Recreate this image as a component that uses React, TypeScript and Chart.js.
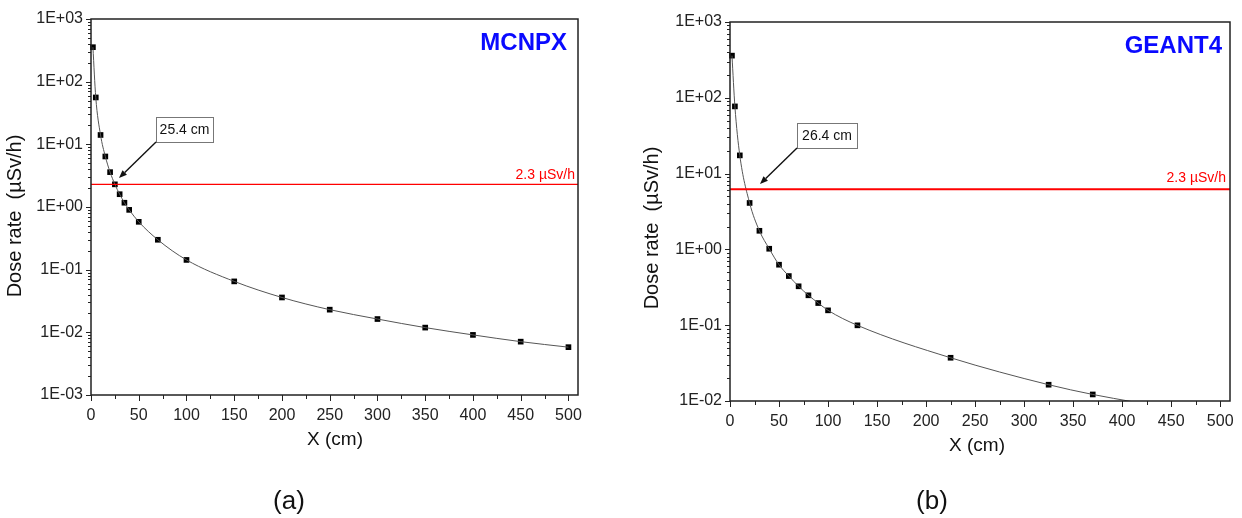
import React, { useEffect, useRef } from "react";
import { Chart, registerables } from "chart.js";
Chart.register(...registerables);

// ---------- data ----------
const mcnpxX = [2, 5, 10, 15, 20, 25, 30, 35, 40, 50, 70, 100, 150, 200, 250, 300, 350, 400, 450, 500];
const mcnpxY = [355, 56, 14.1, 6.4, 3.6, 2.3, 1.6, 1.17, 0.9, 0.58, 0.3, 0.143, 0.065, 0.036, 0.023, 0.0163, 0.0119, 0.0091, 0.0071, 0.0058];

const geantX = [2, 5, 10, 20, 30, 40, 50, 60, 70, 80, 90, 100, 130, 225, 325, 370];
const geantY = [360, 77, 17.4, 4.1, 1.76, 1.02, 0.628, 0.445, 0.326, 0.248, 0.196, 0.157, 0.0996, 0.0372, 0.0164, 0.0122];
// fitted curve continues past the last marker until it leaves the axis
const geantTailX = [412];
const geantTailY = [0.0097];

const mcnpxLimit = 2.3;
const geantLimit = 6.2;
const limitLabel = "2.3 µSv/h";

const xTickValues = [0, 50, 100, 150, 200, 250, 300, 350, 400, 450, 500];
const xMin = 0;
const xMax = 510;
const mcnpxYTicks = [1e-3, 1e-2, 1e-1, 1, 10, 100, 1000];
const geantYTicks = [1e-2, 1e-1, 1, 10, 100, 1000];

const FONT = "'Liberation Sans', Arial, Helvetica, sans-serif";

function fmtExp(v: number) {
  const e = Math.round(Math.log10(v));
  return "1E" + (e < 0 ? "-" : "+") + String(Math.abs(e)).padStart(2, "0");
}

function drawArrow(ctx: CanvasRenderingContext2D, x0: number, y0: number, x1: number, y1: number) {
  ctx.save();
  ctx.strokeStyle = "#111";
  ctx.fillStyle = "#111";
  ctx.lineWidth = 1.4;
  const ang = Math.atan2(y1 - y0, x1 - x0);
  const hl = 8, hw = 3.2;
  const bx = x1 - hl * Math.cos(ang), by = y1 - hl * Math.sin(ang);
  ctx.beginPath();
  ctx.moveTo(x0, y0);
  ctx.lineTo(bx, by);
  ctx.stroke();
  ctx.beginPath();
  ctx.moveTo(x1, y1);
  ctx.lineTo(bx + hw * Math.sin(ang), by - hw * Math.cos(ang));
  ctx.lineTo(bx - hw * Math.sin(ang), by + hw * Math.cos(ang));
  ctx.closePath();
  ctx.fill();
  ctx.restore();
}

type Layout = {
  width: number;
  height: number;
  plotLeft: number;
  plotTop: number;
  plotRight: number;
  plotBottom: number;
  yTitle: [number, number];
  xTitle: [number, number];
  label: string;
  labelPos: [number, number];
  limitLabelPos: [number, number];
  box: [number, number, number, number];
  boxText: string;
  arrowTip: [number, number];
  limitWidth: number;
};

function makeChart(canvas: HTMLCanvasElement, xs: number[], ys: number[], tailX: number[], tailY: number[],
  limit: number, yTicks: number[], L: Layout) {
  const markers = xs.map((x, i) => ({ x, y: ys[i] }));
  const curve = markers.concat(tailX.map((x, i) => ({ x, y: tailY[i] })));
  const limitLine = [{ x: xMin, y: limit }, { x: xMax, y: limit }];
  const yMin = yTicks[0], yMax = yTicks[yTicks.length - 1];

  const overlay = {
    id: "overlay",
    afterDraw(chart: any) {
      const ctx: CanvasRenderingContext2D = chart.ctx;
      const a = chart.chartArea;
      const xs_ = chart.scales.x, ys_ = chart.scales.y;
      ctx.save();
      // ticks
      ctx.strokeStyle = "#222";
      ctx.lineWidth = 1;
      ctx.beginPath();
      for (let e = Math.round(Math.log10(yMin)); e <= Math.round(Math.log10(yMax)); e++) {
        for (let k = 1; k <= 9; k++) {
          const v = k * Math.pow(10, e);
          if (v > yMax * 1.0001) break;
          const py = Math.round(ys_.getPixelForValue(v)) + 0.5;
          const len = k === 1 ? 5 : 3;
          ctx.moveTo(a.left, py);
          ctx.lineTo(a.left - len, py);
        }
      }
      for (let v = 0; v <= 500; v += 25) {
        const px = Math.round(xs_.getPixelForValue(v)) + 0.5;
        const len = v % 50 === 0 ? 6 : 4;
        ctx.moveTo(px, a.bottom);
        ctx.lineTo(px, a.bottom + len);
      }
      ctx.stroke();
      // frame
      ctx.strokeStyle = "#222";
      ctx.lineWidth = 1.5;
      ctx.strokeRect(a.left, a.top, a.right - a.left, a.bottom - a.top);

      // titles
      ctx.fillStyle = "#111";
      ctx.textAlign = "center";
      ctx.textBaseline = "middle";
      ctx.font = "20px " + FONT;
      ctx.save();
      ctx.translate(L.yTitle[0], L.yTitle[1]);
      ctx.rotate(-Math.PI / 2);
      ctx.fillText("Dose rate  (µSv/h)", 0, 0);
      ctx.restore();
      ctx.font = "19px " + FONT;
      ctx.fillText("X (cm)", L.xTitle[0], L.xTitle[1]);

      // code name
      ctx.fillStyle = "#0a0aff";
      ctx.font = "bold 24px " + FONT;
      ctx.textAlign = "right";
      ctx.fillText(L.label, L.labelPos[0], L.labelPos[1]);

      // limit label
      ctx.fillStyle = "#ff0000";
      ctx.font = "14px " + FONT;
      ctx.textBaseline = "alphabetic";
      ctx.fillText(limitLabel, L.limitLabelPos[0], L.limitLabelPos[1]);

      // annotation box + arrow
      const [bx, by, bw, bh] = L.box;
      ctx.fillStyle = "#fff";
      ctx.fillRect(bx, by, bw, bh);
      ctx.strokeStyle = "#777";
      ctx.lineWidth = 1;
      ctx.strokeRect(bx + 0.5, by + 0.5, bw, bh);
      ctx.fillStyle = "#111";
      ctx.font = "14px " + FONT;
      ctx.textAlign = "center";
      ctx.textBaseline = "middle";
      ctx.fillText(L.boxText, bx + bw / 2, by + bh / 2 + 1);
      drawArrow(ctx, bx, by + bh, L.arrowTip[0], L.arrowTip[1]);
      ctx.restore();
    },
  };

  return new Chart(canvas, {
    type: "line",
    data: {
      datasets: [
        {
          data: limitLine,
          borderColor: "#ff0000",
          borderWidth: L.limitWidth,
          pointRadius: 0,
          showLine: true,
        },
        {
          data: curve,
          borderColor: "#555",
          borderWidth: 1,
          pointRadius: 0,
          cubicInterpolationMode: "monotone",
          showLine: true,
        },
        {
          data: markers,
          showLine: false,
          pointStyle: "rect",
          pointRadius: 4,
          pointBackgroundColor: "#000",
          pointBorderWidth: 0,
          borderColor: "#000",
          clip: false,
        },
      ],
    },
    options: {
      responsive: false,
      animation: false,
      events: [],
      layout: {
        padding: { top: L.plotTop, right: L.width - L.plotRight, left: 0, bottom: 0 },
      },
      plugins: { legend: { display: false }, tooltip: { enabled: false } },
      scales: {
        x: {
          type: "linear",
          min: xMin,
          max: xMax,
          afterBuildTicks: (s: any) => { s.ticks = xTickValues.map((v) => ({ value: v })); },
          afterFit: (s: any) => { s.height = L.height - L.plotBottom; },
          ticks: { font: { size: 16, family: FONT }, color: "#222", padding: 6, maxRotation: 0, autoSkip: false },
          grid: { drawOnChartArea: false, tickLength: 5, tickColor: "rgba(0,0,0,0)" },
          border: { display: false },
        },
        y: {
          type: "logarithmic",
          min: yMin,
          max: yMax,
          afterBuildTicks: (s: any) => { s.ticks = yTicks.map((v) => ({ value: v })); },
          afterFit: (s: any) => { s.width = L.plotLeft; },
          ticks: { font: { size: 16, family: FONT }, color: "#222", padding: 3, autoSkip: false, callback: (v: any) => fmtExp(Number(v)) },
          grid: { drawOnChartArea: false, tickLength: 5, tickColor: "rgba(0,0,0,0)" },
          border: { display: false },
        },
      },
    } as any,
    plugins: [overlay as any],
  });
}

const leftLayout: Layout = {
  width: 620, height: 518,
  plotLeft: 91, plotTop: 19, plotRight: 578, plotBottom: 395,
  yTitle: [15, 216], xTitle: [335, 440],
  label: "MCNPX", labelPos: [567, 43],
  limitLabelPos: [575, 179],
  box: [156, 117, 57, 25], boxText: "25.4 cm",
  arrowTip: [119, 178],
  limitWidth: 1.4,
};

const rightLayout: Layout = {
  width: 621, height: 518,
  plotLeft: 109, plotTop: 22, plotRight: 609, plotBottom: 401,
  yTitle: [31, 228], xTitle: [356, 446],
  label: "GEANT4", labelPos: [601, 46],
  limitLabelPos: [605, 182],
  box: [176, 123, 60, 25], boxText: "26.4 cm",
  arrowTip: [139, 184],
  limitWidth: 2,
};

export default function App() {
  const leftRef = useRef<HTMLCanvasElement>(null);
  const rightRef = useRef<HTMLCanvasElement>(null);

  useEffect(() => {
    const c1 = makeChart(leftRef.current!, mcnpxX, mcnpxY, [], [], mcnpxLimit, mcnpxYTicks, leftLayout);
    const c2 = makeChart(rightRef.current!, geantX, geantY, geantTailX, geantTailY, geantLimit, geantYTicks, rightLayout);
    return () => { c1.destroy(); c2.destroy(); };
  }, []);

  const cap: React.CSSProperties = {
    position: "absolute", top: 485, width: 100, textAlign: "center",
    font: "26px " + FONT, lineHeight: "30px", color: "#111",
  };

  return (
    <div style={{ position: "absolute", left: 0, top: 0, width: 1242, height: 518, background: "#fff", overflow: "hidden" }}>
      <canvas ref={leftRef} width={620} height={518} style={{ position: "absolute", left: 0, top: 0, width: 620, height: 518 }} />
      <canvas ref={rightRef} width={621} height={518} style={{ position: "absolute", left: 621, top: 0, width: 621, height: 518 }} />
      <div style={{ ...cap, left: 239 }}>(a)</div>
      <div style={{ ...cap, left: 882 }}>(b)</div>
    </div>
  );
}
